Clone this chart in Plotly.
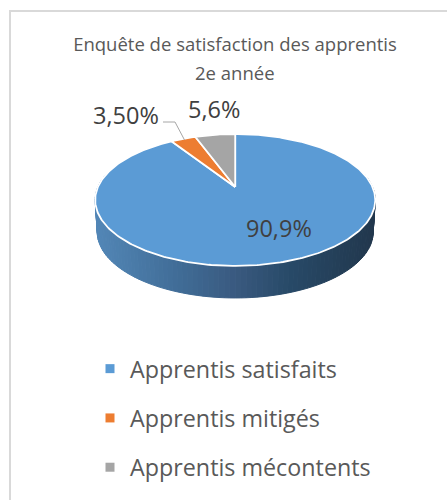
import numpy as np
import plotly.graph_objects as go

categories = ["Apprentis satisfaits", "Apprentis mitigés", "Apprentis mécontents"]
values = [90.9, 3.5, 5.6]
value_labels = ["90,9%", "3,50%", "5,6%"]
colors = ["#5B9BD5", "#ED7D31", "#A5A5A5"]
title_lines = ["Enquête de satisfaction des apprentis", "2e année"]

W, H = 447, 500
CX, CY = 235.2, 187.0      # apex of the pie
A, B, K = 63.4, 137.3, 0.197  # perspective
DEPTH, SHRINK = 32.0, 0.985
WALL_STOPS = [(0.0, (82, 134, 182)), (0.3, (64, 108, 150)), (0.5, (58, 90, 128)),
              (0.7, (40, 74, 104)), (1.0, (34, 56, 78))]
FONT = "Open Sans"
TEXT = "#595959"


def project(theta, r=1.0):
    """theta: clockwise angle from 12 o'clock, in radians."""
    u, v = r * np.sin(theta), r * np.cos(theta)
    d = 1 + K * v
    return CX + B * u / d, CY - A * v / d


def wall_color(t):
    pts = [s[0] for s in WALL_STOPS]
    rgb = [np.interp(t, pts, [s[1][i] for s in WALL_STOPS]) for i in range(3)]
    return "rgb(%d,%d,%d)" % tuple(rgb)


fig = go.Figure()

# side wall
edges = np.linspace(np.pi / 2 - 0.2, 3 * np.pi / 2 + 0.2, 111)
for a0, a1 in zip(edges[:-1], edges[1:]):
    ts = np.linspace(a0, a1, 3)
    xt, yt = project(ts)
    xb, yb = xt, yt + DEPTH
    xb = CX + (xb - CX) * SHRINK
    xs = np.r_[xt, xb[::-1], xt[0]]
    ys = np.r_[yt, yb[::-1], yt[0]]
    t = np.clip((xt.mean() - (CX - B)) / (2 * B), 0, 1)
    c = wall_color(float(t))
    fig.add_trace(go.Scatter(x=xs, y=ys, mode="lines", fill="toself", fillcolor=c,
                             line=dict(color=c, width=1), hoverinfo="skip", showlegend=False))

# top faces
total = sum(values)
start = 0.0
mids = []
for val, col in zip(values, colors):
    end = start + val / total * 2 * np.pi
    ts = np.linspace(start, end, max(4, int(val * 4)))
    x, y = project(ts)
    fig.add_trace(go.Scatter(x=np.r_[CX, x, CX], y=np.r_[CY, y, CY], mode="lines", fill="toself",
                             fillcolor=col, line=dict(color="white", width=1.8),
                             hoverinfo="skip", showlegend=False))
    mids.append((start + end) / 2)
    start = end

# leader line to the "mitigés" slice
lx, ly = project(mids[1], 0.97)
fig.add_trace(go.Scatter(x=[163, 175, lx], y=[122, 122, ly], mode="lines",
                         line=dict(color="#A6A6A6", width=1), hoverinfo="skip", showlegend=False))

# legend entries
for cat, col in zip(categories, colors):
    fig.add_trace(go.Scatter(x=[None], y=[None], mode="markers", name=cat, legendgroup=cat,
                             marker=dict(symbol="square", size=9, color=col)))

label_pos = [(279, 228), (126, 115), (214, 109)]
annotations = [dict(x=px, y=py, text=t, showarrow=False, xanchor="center", yanchor="middle",
                    font=dict(family=FONT, size=23.5, color="#404040"))
               for t, (px, py) in zip(value_labels, label_pos)]
annotations.append(dict(x=235, y=72, text=title_lines[1], showarrow=False, xanchor="center",
                        yanchor="middle", font=dict(family=FONT, size=18.5, color=TEXT)))

fig.update_layout(
    width=W, height=H, autosize=False,
    margin=dict(l=0, r=0, t=0, b=0),
    paper_bgcolor="white", plot_bgcolor="white",
    title=dict(text=title_lines[0], x=235 / W, y=1 - 45 / H, xanchor="center", yanchor="middle",
               xref="paper", yref="paper", font=dict(family=FONT, size=18.5, color=TEXT)),
    xaxis=dict(range=[0, W], visible=False, fixedrange=True),
    yaxis=dict(range=[H, 0], visible=False, fixedrange=True),
    annotations=annotations,
    legend=dict(x=90 / W, y=1 - 347 / H, xanchor="left", yanchor="top", tracegroupgap=16,
                font=dict(family=FONT, size=23.3, color=TEXT), itemwidth=30,
                bgcolor="rgba(0,0,0,0)"),
    shapes=[dict(type="line", xref="x", yref="y", x0=10, y0=11, x1=W, y1=11,
                 line=dict(color="#D9D9D9", width=2), layer="below"),
            dict(type="line", xref="x", yref="y", x0=10, y0=10, x1=10, y1=H,
                 line=dict(color="#D9D9D9", width=2), layer="below")],
)
fig.write_html("out.html", config=dict(displayModeBar=False),
               post_script="document.body.style.margin='0';")
